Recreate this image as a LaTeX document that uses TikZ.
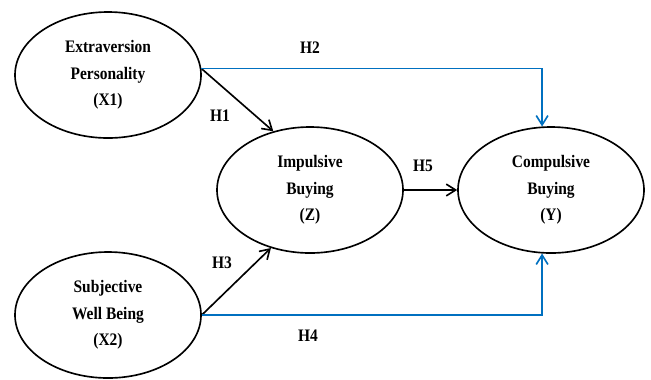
\documentclass[tikz,border=0pt]{standalone}
\usepackage{fontspec}
\setmainfont[FakeStretch=0.88]{Liberation Serif}
\usepackage{tikz}
\usetikzlibrary{arrows.meta,shapes.geometric,calc}
\definecolor{pfadblau}{RGB}{0,112,192}

\begin{document}
\begin{tikzpicture}[x=0.03cm,y=-0.03cm,
  konstrukt/.style={draw=black,line width=1.4pt,ellipse,minimum width=5.58cm,minimum height=3.78cm,inner sep=0pt,align=center,font=\fontsize{15}{22.5}\selectfont\bfseries},
  hpfad/.style={line width=1.4pt,-{Straight Barb[length=8pt,width=10pt,line width=1.4pt]}},
  hlabel/.style={font=\fontsize{15}{22.5}\selectfont\bfseries,inner sep=0pt}]
\useasboundingbox (0,0) rectangle (651,379);
%Konstrukte
\node[konstrukt] (x1) at (108,75) {Extraversion\\Personality\\(X1)};
\node[konstrukt] (x2) at (108,315) {Subjective\\Well Being\\(X2)};
\node[konstrukt] (z) at (310,190) {Impulsive\\Buying\\(Z)};
\node[konstrukt] (y) at (551,190) {Compulsive\\Buying\\(Y)};
%Pfade
\draw[hpfad,black] (x1.4) -- (z.122);
\draw[hpfad,black] (x2.east) -- (z.236);
\draw[hpfad,black] (z.east) -- (y.west);
\draw[hpfad,pfadblau] (x1.4) -| (y.98);
\draw[hpfad,pfadblau] (x2.east) -| (y.262);
%Hypothesen
\node[hlabel] (h1) at (220,116) {H1};
\node[hlabel] (h2) at (310,48) {H2};
\node[hlabel] (h3) at (222,263) {H3};
\node[hlabel] (h4) at (308,336) {H4};
\node[hlabel] (h5) at (423,166) {H5};
\end{tikzpicture}
\end{document}
